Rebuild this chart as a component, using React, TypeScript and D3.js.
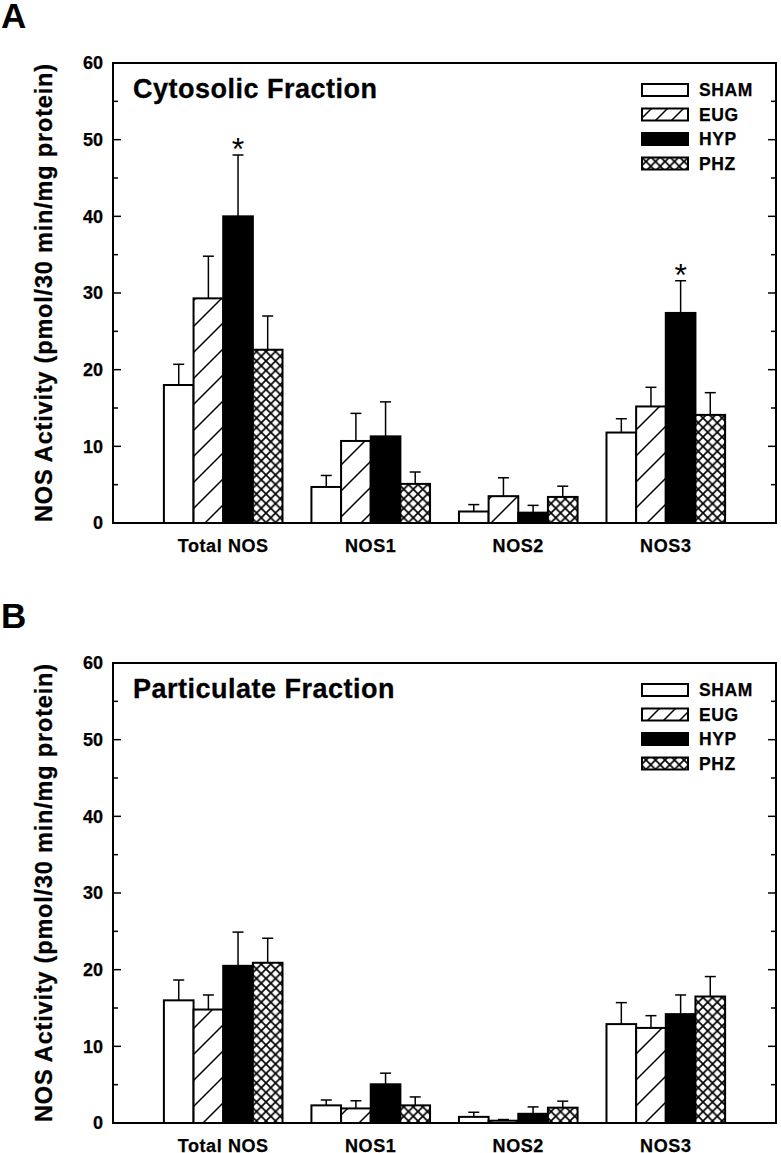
import React from "react";
import * as d3 from "d3";

const categories = ["Total NOS", "NOS1", "NOS2", "NOS3"];
const groups = ["SHAM", "EUG", "HYP", "PHZ"];
const yTicks = [0, 10, 20, 30, 40, 50, 60];
const yMinorTicks = [5, 15, 25, 35, 45, 55];

// Cytosolic fraction (panel A): means and SEM
const cytoSHAM = [18.0, 4.7, 1.5, 11.8];
const cytoSHAMErr = [2.7, 1.5, 0.9, 1.8];
const cytoEUG = [29.3, 10.7, 3.5, 15.2];
const cytoEUGErr = [5.5, 3.6, 2.4, 2.5];
const cytoHYP = [40.0, 11.3, 1.35, 27.4];
const cytoHYPErr = [8.0, 4.5, 0.95, 4.2];
const cytoPHZ = [22.6, 5.1, 3.4, 14.1];
const cytoPHZErr = [4.4, 1.55, 1.4, 2.9];
const cytoStars = [
  ["Total NOS", "HYP"],
  ["NOS3", "HYP"],
];

// Particulate fraction (panel B)
const partSHAM = [16.0, 2.3, 0.8, 12.9];
const partSHAMErr = [2.65, 0.7, 0.6, 2.8];
const partEUG = [14.8, 1.9, 0.3, 12.4];
const partEUGErr = [1.9, 1.0, 0.15, 1.6];
const partHYP = [20.5, 5.05, 1.2, 14.2];
const partHYPErr = [4.4, 1.45, 0.9, 2.5];
const partPHZ = [20.9, 2.3, 2.0, 16.5];
const partPHZErr = [3.2, 1.1, 0.85, 2.6];
const partStars: string[][] = [];

const FONT = "Liberation Sans, Arial, Helvetica, sans-serif";
const boldText = { fontFamily: FONT, fontWeight: 700 as const };

type Row = { cat: string; group: string; v: number; e: number };

function buildRows(means: number[][], errs: number[][]): Row[] {
  const rows: Row[] = [];
  categories.forEach((cat, i) => {
    groups.forEach((g, j) => {
      rows.push({ cat, group: g, v: means[j][i], e: errs[j][i] });
    });
  });
  return rows;
}

const fills: Record<string, string> = {
  SHAM: "#fff",
  EUG: "url(#hatch)",
  HYP: "#000",
  PHZ: "url(#cross)",
};
const legendFills: Record<string, string> = {
  SHAM: "#fff",
  EUG: "url(#hatchLeg)",
  HYP: "#000",
  PHZ: "url(#cross)",
};

const LEFT = 113;
const RIGHT = 776;

function Panel({
  top,
  letter,
  title,
  rows,
  stars,
}: {
  top: number;
  letter: string;
  title: string;
  rows: Row[];
  stars: string[][];
}) {
  const bottom = top + 460;
  const y = d3.scaleLinear().domain([0, 60]).range([bottom, top]);
  const x0 = d3
    .scaleBand()
    .domain(categories)
    .range([LEFT, RIGHT])
    .paddingInner(0.196)
    .paddingOuter(0.345);
  const x1 = d3.scaleBand().domain(groups).range([0, x0.bandwidth()]).padding(0);
  const bw = x1.bandwidth();
  const capHalf = 5.5;

  return (
    <g>
      <text x={1} y={top - 35} style={{ ...boldText, fontSize: 35 }}>
        {letter}
      </text>
      {/* y axis label */}
      <text
        transform={`translate(52,${(top + bottom) / 2}) rotate(-90)`}
        textAnchor="middle"
        style={{ ...boldText, fontSize: 23.5 }}
        stroke="#000"
        strokeWidth={0.3}
        textLength={458}
        lengthAdjust="spacing"
      >
        NOS Activity (pmol/30 min/mg protein)
      </text>
      {/* ticks */}
      {yTicks.map((t) => (
        <g key={"t" + t}>
          <line x1={LEFT} x2={LEFT + 8} y1={y(t)} y2={y(t)} stroke="#000" strokeWidth={1.5} />
          <line x1={RIGHT} x2={RIGHT - 8} y1={y(t)} y2={y(t)} stroke="#000" strokeWidth={1.5} />
          <text
            x={103}
            y={y(t)}
            dy="0.36em"
            textAnchor="end"
            style={{ ...boldText, fontSize: 18 }}
            stroke="#000"
            strokeWidth={0.25}
          >
            {t}
          </text>
        </g>
      ))}
      {yMinorTicks.map((t) => (
        <g key={"m" + t}>
          <line x1={LEFT} x2={LEFT + 5} y1={y(t)} y2={y(t)} stroke="#000" strokeWidth={1.5} />
          <line x1={RIGHT} x2={RIGHT - 5} y1={y(t)} y2={y(t)} stroke="#000" strokeWidth={1.5} />
        </g>
      ))}
      {/* title */}
      <text
        x={133}
        y={top + 35}
        style={{ ...boldText, fontSize: 27, letterSpacing: 0.5 }}
        stroke="#000"
        strokeWidth={0.3}
      >
        {title}
      </text>
      {/* bars */}
      {rows.map((r) => {
        const bx = (x0(r.cat) as number) + (x1(r.group) as number);
        const cx = bx + bw / 2;
        return (
          <g key={r.cat + r.group}>
            <line x1={cx} x2={cx} y1={y(r.v)} y2={y(r.v + r.e)} stroke="#000" strokeWidth={1.5} />
            <line
              x1={cx - capHalf}
              x2={cx + capHalf}
              y1={y(r.v + r.e)}
              y2={y(r.v + r.e)}
              stroke="#000"
              strokeWidth={1.5}
            />
            <rect
              x={bx}
              y={y(r.v)}
              width={bw}
              height={y(0) - y(r.v)}
              fill={fills[r.group]}
              stroke="#000"
              strokeWidth={2}
            />
          </g>
        );
      })}
      {/* significance stars */}
      {stars.map(([cat, g]) => {
        const r = rows.find((d) => d.cat === cat && d.group === g)!;
        const cx = (x0(cat) as number) + (x1(g) as number) + bw / 2;
        return (
          <text
            key={"s" + cat}
            x={cx}
            y={y(r.v + r.e) + 5}
            textAnchor="middle"
            style={{ fontFamily: FONT, fontSize: 32 }}
          >
            *
          </text>
        );
      })}
      {/* category labels */}
      {categories.map((c) => (
        <text
          key={"c" + c}
          x={(x0(c) as number) + x0.bandwidth() / 2}
          y={bottom + 29}
          textAnchor="middle"
          style={{ ...boldText, fontSize: 18, letterSpacing: 0.6 }}
          stroke="#000"
          strokeWidth={0.25}
        >
          {c}
        </text>
      ))}
      {/* legend */}
      {groups.map((g, i) => {
        const cy = top + 27 + i * 24.5;
        return (
          <g key={"l" + g}>
            <rect x={642} y={cy - 6} width={46} height={12} fill={legendFills[g]} stroke="#000" strokeWidth={2} />
            <text
              x={699}
              y={cy}
              dy="0.36em"
              style={{ ...boldText, fontSize: 17.5, letterSpacing: 0.6 }}
              stroke="#000"
              strokeWidth={0.25}
            >
              {g}
            </text>
          </g>
        );
      })}
      {/* frame */}
      <rect x={LEFT} y={top} width={RIGHT - LEFT} height={bottom - top} fill="none" stroke="#000" strokeWidth={2} />
    </g>
  );
}

export default function App() {
  const cytoRows = buildRows(
    [cytoSHAM, cytoEUG, cytoHYP, cytoPHZ],
    [cytoSHAMErr, cytoEUGErr, cytoHYPErr, cytoPHZErr]
  );
  const partRows = buildRows(
    [partSHAM, partEUG, partHYP, partPHZ],
    [partSHAMErr, partEUGErr, partHYPErr, partPHZErr]
  );
  return (
    <svg
      width={781}
      height={1153}
      style={{ position: "absolute", left: 0, top: 0, background: "#fff" }}
    >
      <defs>
        <pattern id="hatch" patternUnits="userSpaceOnUse" width={26} height={26}>
          <rect width={26} height={26} fill="#fff" />
          <path d="M-2,28 L28,-2 M-2,2 L2,-2 M24,28 L28,24" stroke="#000" strokeWidth={1.5} />
        </pattern>
        <pattern id="hatchLeg" patternUnits="userSpaceOnUse" width={16} height={16} x={4} y={4}>
          <rect width={16} height={16} fill="#fff" />
          <path d="M-2,18 L18,-2 M-2,2 L2,-2 M14,18 L18,14" stroke="#000" strokeWidth={1.5} />
        </pattern>
        <pattern id="cross" patternUnits="userSpaceOnUse" width={9.5} height={9.5}>
          <rect width={9.5} height={9.5} fill="#fff" />
          <path d="M0,0 L9.5,9.5 M9.5,0 L0,9.5" stroke="#000" strokeWidth={1.7} />
        </pattern>
      </defs>
      <rect width={781} height={1153} fill="#fff" />
      <Panel top={63} letter="A" title="Cytosolic Fraction" rows={cytoRows} stars={cytoStars} />
      <Panel top={663} letter="B" title="Particulate Fraction" rows={partRows} stars={partStars} />
    </svg>
  );
}
